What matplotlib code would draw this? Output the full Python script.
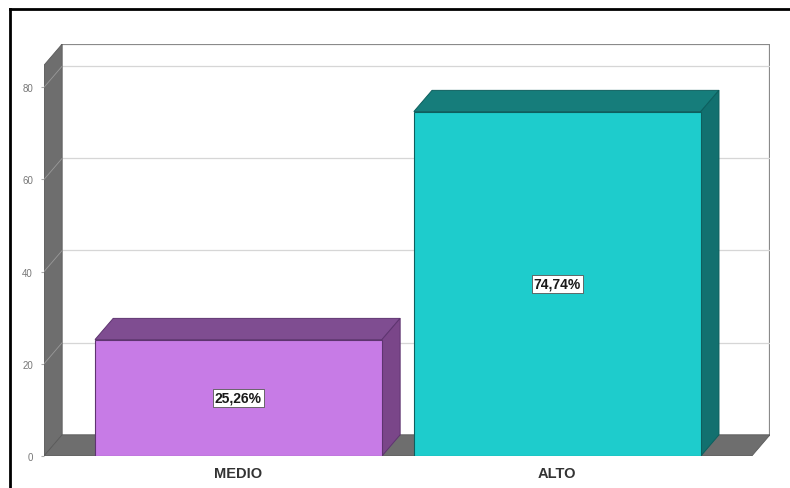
import matplotlib
matplotlib.use("Agg")
from matplotlib import pyplot as plt
from matplotlib.patches import Polygon
from matplotlib.lines import Line2D

plt.rcParams["font.family"] = ["Liberation Sans", "DejaVu Sans"]

categories = ["MEDIO", "ALTO"]
values = [25.26, 74.74]
labels = ["25,26%", "74,74%"]
yticks = [0, 20, 40, 60, 80]

front_colors = ["#c77be6", "#1ecccc"]
top_colors = ["#7f4d91", "#167d7b"]
side_colors = ["#7a4689", "#12706f"]
edge_colors = ["#5e3470", "#0d5f5e"]
wall = "#6e6e6e"

# depth of the fake 3d box, in data units
dx = 0.057
dy = 4.6
width = 0.9
x0, x1 = -0.61, 1.61
ytop = 89.4

fig = plt.figure(figsize=(7.9, 4.89), dpi=100)
ax = fig.add_axes([44 / 790, 32 / 489, (770 - 44) / 790, (457 - 45) / 489])
ax.set_xlim(x0, x1 + dx)
ax.set_ylim(0, ytop)
for s in ax.spines.values():
    s.set_visible(False)

# back wall outline + grid
ax.plot([x0 + dx, x1 + dx, x1 + dx], [ytop, ytop, dy], color="#8a8a8a", lw=1.6, zorder=1)
for t in yticks[1:]:
    ax.plot([x0 + dx, x1 + dx], [t + dy, t + dy], color="#d6d6d6", lw=0.9, zorder=1)
    ax.plot([x0, x0 + dx], [t, t + dy], color="#9a9a9a", lw=0.6, zorder=3)

# left wall and floor
ax.add_patch(Polygon([[x0, 0], [x0, ytop - dy], [x0 + dx, ytop], [x0 + dx, dy]],
                     closed=True, fc=wall, ec="#5a5a5a", lw=0.6, zorder=2))
ax.add_patch(Polygon([[x0, 0], [x1, 0], [x1 + dx, dy], [x0 + dx, dy]],
                     closed=True, fc=wall, ec="#5a5a5a", lw=0.6, zorder=2))

xs = list(range(len(categories)))
bars = ax.bar(xs, values, width=width, color=front_colors, edgecolor=edge_colors,
              linewidth=0.8, zorder=5)
for i, (x, v) in enumerate(zip(xs, values)):
    l, r = x - width / 2, x + width / 2
    ax.add_patch(Polygon([[l, v], [r, v], [r + dx, v + dy], [l + dx, v + dy]],
                         closed=True, fc=top_colors[i], ec=edge_colors[i], lw=0.7, zorder=4))
    ax.add_patch(Polygon([[r, 0], [r, v], [r + dx, v + dy], [r + dx, dy]],
                         closed=True, fc=side_colors[i], ec=edge_colors[i], lw=0.7, zorder=4))
    ax.text(x, v / 2, labels[i], ha="center", va="center", fontsize=10,
            fontweight="bold", color="#1a1a1a", zorder=6,
            bbox=dict(boxstyle="square,pad=0.15", fc="white", ec="#555555", lw=0.6))

ax.set_yticks(yticks)
ax.set_yticklabels([str(t) for t in yticks], fontsize=7, color="#777777")
ax.tick_params(axis="y", length=2, color="#aaaaaa", pad=6)
ax.set_xticks(xs)
ax.set_xticklabels(categories, fontsize=10.5, fontweight="bold", color="#333333")
ax.tick_params(axis="x", length=0, pad=7)

# outer frame (left and top only visible)
fig.add_artist(Line2D([10 / 790, 10 / 790], [0, 1 - 10 / 489], color="black", lw=2))
fig.add_artist(Line2D([10 / 790, 1], [1 - 10 / 489, 1 - 10 / 489], color="black", lw=2))

fig.savefig("out.png", dpi=100)
